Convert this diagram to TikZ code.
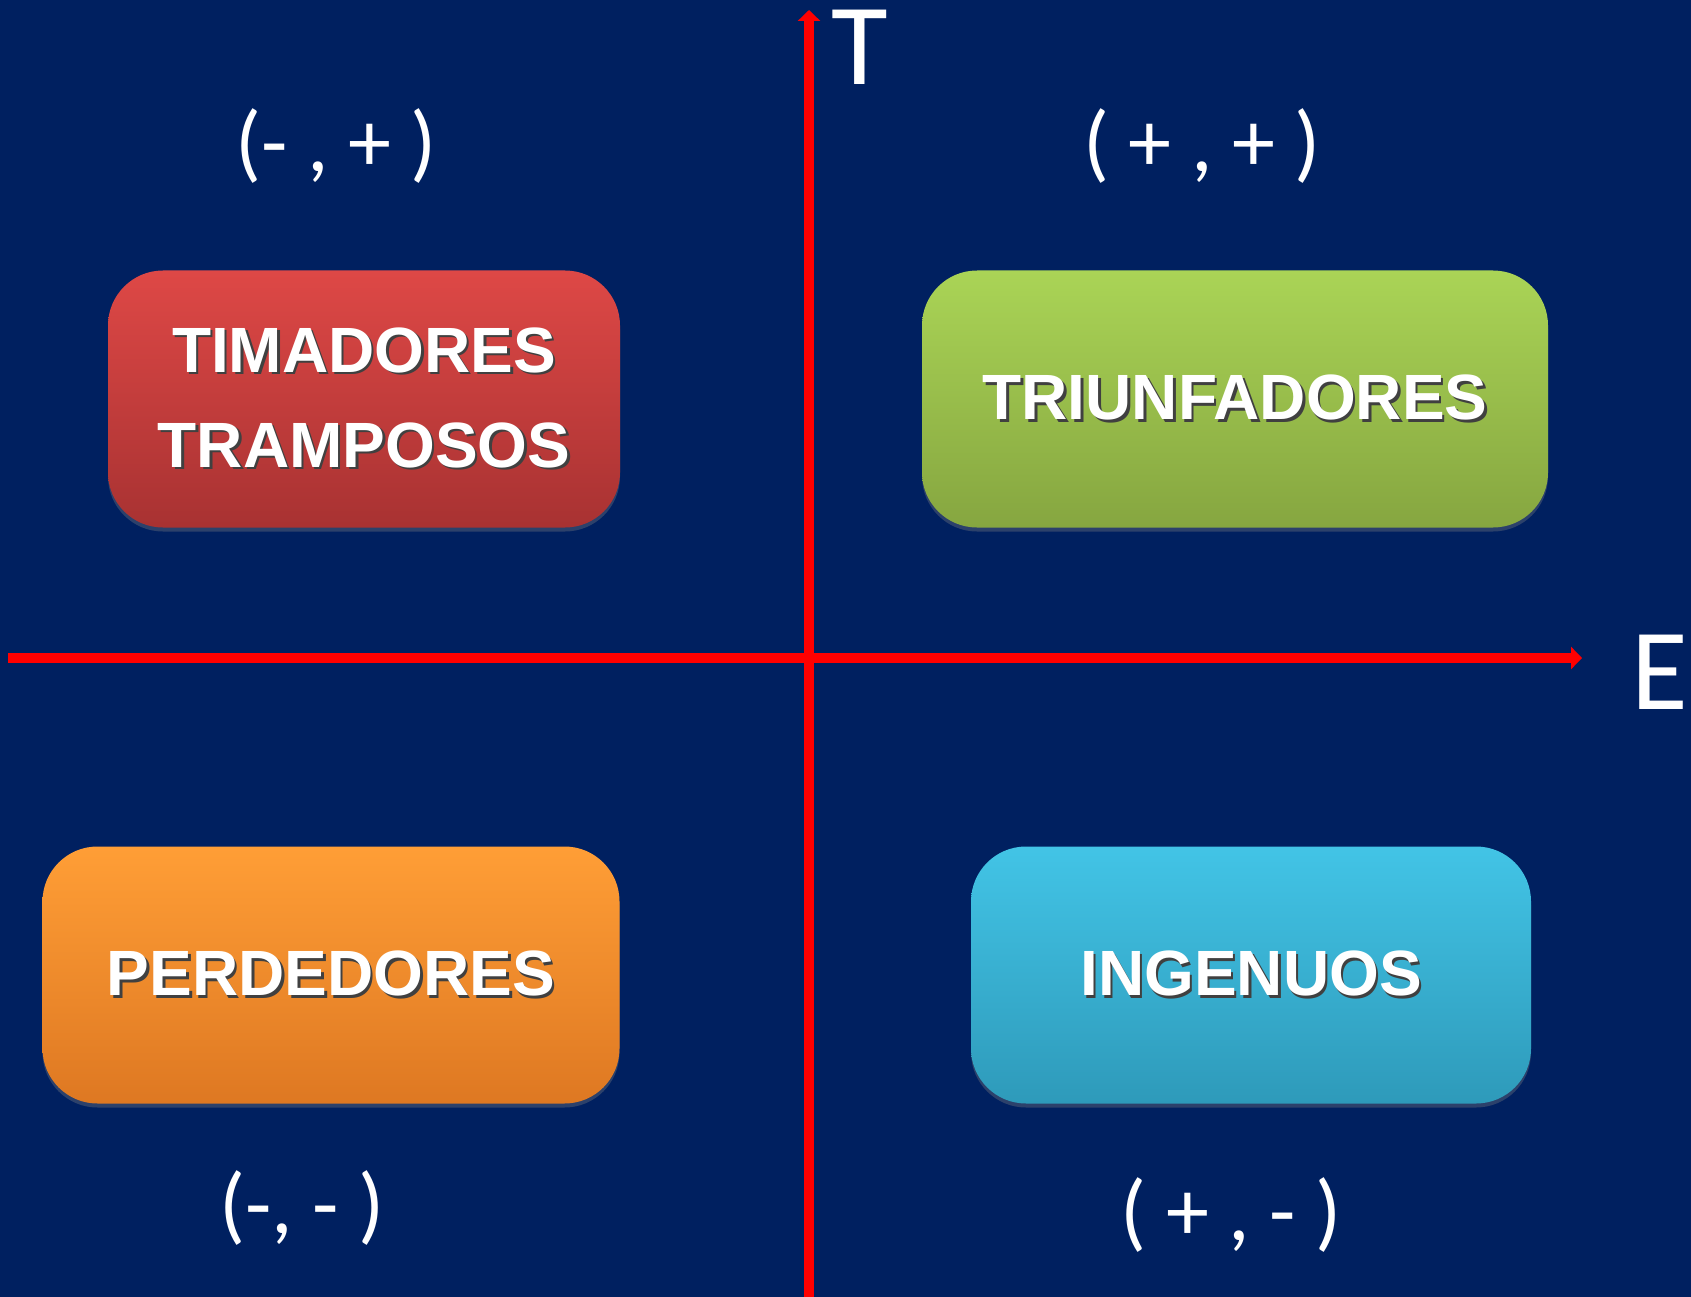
\documentclass[tikz,border=0pt]{standalone}
\usepackage{fontspec}
\setmainfont{Carlito}
\newfontfamily\boxfont{Liberation Sans}
\usetikzlibrary{arrows.meta,shadows}

\definecolor{bgblue}{HTML}{002060}
\definecolor{axisred}{HTML}{FF0000}
\newcommand{\shd}[1]{\makebox[0pt][l]{\hspace{2.5pt}\raisebox{-2.5pt}{\color{black!75}#1}}#1}

\begin{document}
\begin{tikzpicture}[x=1pt,y=-1pt,
  quadbox/.style={rounded corners=55pt, minimum width=#1, minimum height=257pt,
    shading=axis, drop shadow={opacity=0.35, shadow xshift=0pt, shadow yshift=-4pt},
    text=white, align=center, inner sep=0pt,
    font=\boxfont\bfseries\fontsize{64}{95}\selectfont},
  sign/.style={text=white, font=\fontsize{86}{100}\selectfont},
  axislbl/.style={text=white, font=\fontsize{116}{130}\selectfont, inner sep=0pt, anchor=base west},
  axis/.style={draw=axisred, line width=10pt, -{Triangle[width=22pt,length=11pt]}}]
\fill[bgblue] (0,0) rectangle (1691,1297);
\useasboundingbox (0,0) rectangle (1691,1297);

% axes
\coordinate (tbot) at (809,1297);
\coordinate (ttop) at (809,10);
\coordinate (eleft) at (8,658);
\coordinate (eright) at (1582,658);
\draw[axis] (eleft) -- (eright);
\draw[axis] (tbot) -- (ttop);
\node[axislbl] (T) at (831,85) {T};
\node[axislbl] (E) at (1631,709) {E};

% quadrants
\node[quadbox=512pt, top color={rgb,255:red,222;green,72;blue,70}, bottom color={rgb,255:red,168;green,50;blue,50}] (timadores) at (364,399) {\shd{TIMADORES}\\\shd{TRAMPOSOS}};
\node[quadbox=626pt, top color={rgb,255:red,170;green,212;blue,86}, bottom color={rgb,255:red,134;green,166;blue,64}] (triunfadores) at (1235,399) {\shd{TRIUNFADORES}};
\node[quadbox=577pt, top color={rgb,255:red,255;green,158;blue,54}, bottom color={rgb,255:red,222;green,120;blue,34}] (perdedores) at (331,975) {\shd{PERDEDORES}};
\node[quadbox=560pt, top color={rgb,255:red,66;green,196;blue,230}, bottom color={rgb,255:red,46;green,154;blue,186}] (ingenuos) at (1251,975) {\shd{INGENUOS}};

% signs
\node[sign] (mp) at (336,146) {(- , + )};
\node[sign] (pp) at (1202,146) {( + , + )};
\node[sign] (mm) at (302,1208) {(-, - )};
\node[sign] (pm) at (1231,1215) {( + , - )};
\end{tikzpicture}
\end{document}
